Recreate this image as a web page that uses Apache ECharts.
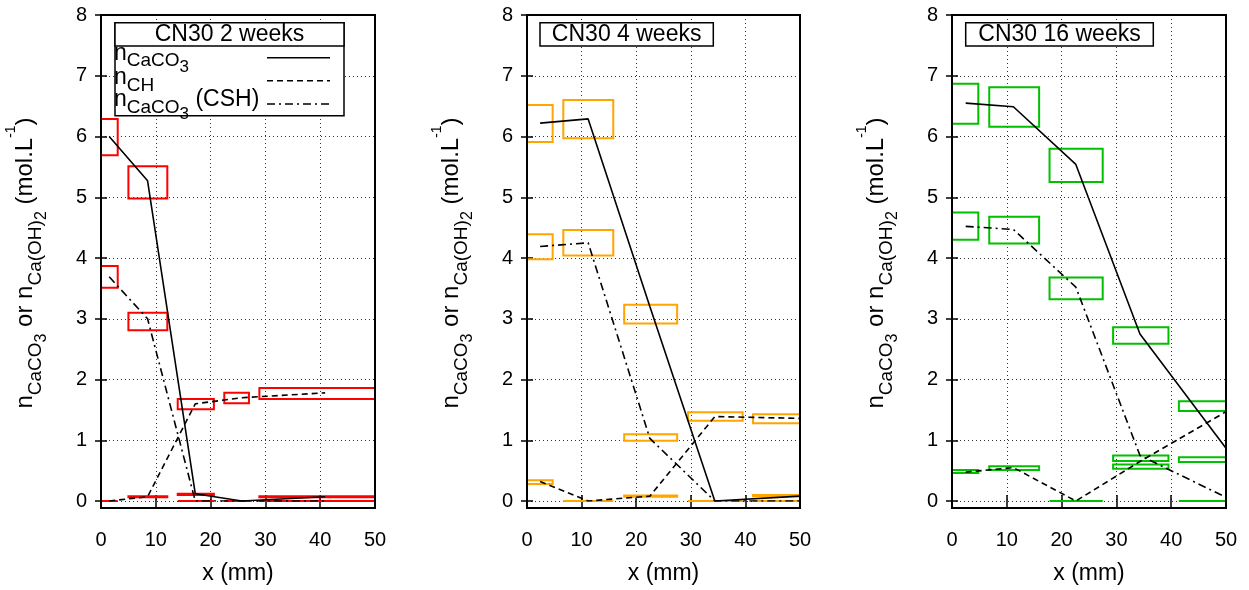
<!DOCTYPE html>
<html><head><meta charset="utf-8">
<script src="https://cdn.jsdelivr.net/npm/echarts@6/dist/echarts.min.js"></script>
<style>html,body{margin:0;padding:0;background:#fff}#c{width:1249px;height:590px}</style>
</head><body><div id="c"></div>
<script>
// ---------- data ----------
const xTickValues = [0, 10, 20, 30, 40, 50];
const yTickValues = [0, 1, 2, 3, 4, 5, 6, 7, 8];
const panelTitles = ['CN30 2 weeks', 'CN30 4 weeks', 'CN30 16 weeks'];
const boxColors = ['#ff0000', '#ffa500', '#00c000'];

// 2 weeks
const w2X = [1.5, 8.5, 17.2, 25.7, 40.9];
const w2CaCO3 = [6.0, 5.27, 0.12, 0.0, 0.07];
const w2CH = [0.0, 0.07, 1.6, 1.7, 1.78];
const w2CSH = [3.69, 3.0, 0.0, 0.0, 0.0];
// boxes: [xMin, xMax, yMin, yMax]
const w2Boxes = [
  [0, 3.05, 5.69, 6.29], [0, 3.05, 3.51, 3.87], [0, 3.05, 0, 0],
  [5.0, 12.1, 4.98, 5.51], [5.0, 12.1, 2.81, 3.10], [5.0, 12.1, 0.06, 0.08],
  [14.0, 20.6, 1.51, 1.68], [14.0, 20.6, 0.10, 0.12], [14.0, 20.6, 0, 0],
  [22.5, 27.0, 1.61, 1.78], [22.5, 27.0, 0, 0], [22.5, 27.0, 0, 0],
  [28.9, 50, 1.68, 1.86], [28.9, 50, 0.06, 0.08], [28.9, 50, 0, 0]
];

// 4 weeks
const w4X = [2.4, 11.2, 22.5, 34.4, 50];
const w4CaCO3 = [6.22, 6.29, 3.2, 0.0, 0.08];
const w4CH = [0.32, 0.0, 0.08, 1.39, 1.36];
const w4CSH = [4.19, 4.25, 1.03, 0.0, 0.0];
const w4Boxes = [
  [0, 4.7, 5.91, 6.52], [0, 4.7, 3.98, 4.39], [0, 4.7, 0.28, 0.34],
  [6.65, 15.8, 5.97, 6.60], [6.65, 15.8, 4.04, 4.46], [6.65, 15.8, 0, 0],
  [17.8, 27.5, 2.92, 3.23], [17.8, 27.5, 0.99, 1.10], [17.8, 27.5, 0.07, 0.09],
  [29.5, 39.5, 1.32, 1.46], [29.5, 39.5, 0, 0], [29.5, 39.5, 0, 0],
  [41.4, 50, 1.28, 1.43], [41.4, 50, 0.08, 0.10], [41.4, 50, 0, 0]
];

// 16 weeks
const w16X = [2.5, 11.2, 22.6, 34.3, 50];
const w16CaCO3 = [6.55, 6.49, 5.54, 2.75, 0.87];
const w16CH = [0.475, 0.55, 0.0, 0.65, 1.47];
const w16CSH = [4.52, 4.47, 3.52, 0.75, 0.06];
const w16Boxes = [
  [0, 4.8, 6.21, 6.87], [0, 4.8, 4.30, 4.75], [0, 4.8, 0.46, 0.51],
  [6.8, 15.9, 6.16, 6.81], [6.8, 15.9, 4.24, 4.68], [6.8, 15.9, 0.51, 0.57],
  [17.8, 27.5, 5.25, 5.80], [17.8, 27.5, 3.32, 3.68], [17.8, 27.5, 0, 0],
  [29.4, 39.5, 2.59, 2.86], [29.4, 39.5, 0.66, 0.75], [29.4, 39.5, 0.53, 0.60],
  [41.4, 50, 1.48, 1.64], [41.4, 50, 0.64, 0.72], [41.4, 50, 0, 0]
];

// ---------- layout / style ----------
const FONT = '"Liberation Sans", Arial, Helvetica, sans-serif';
const panels = [
  { x: w2X, caco3: w2CaCO3, ch: w2CH, csh: w2CSH, boxes: w2Boxes },
  { x: w4X, caco3: w4CaCO3, ch: w4CH, csh: w4CSH, boxes: w4Boxes },
  { x: w16X, caco3: w16CaCO3, ch: w16CH, csh: w16CSH, boxes: w16Boxes }
];
const lefts = [101, 527, 952];
const widths = [274, 273, 274];
const TOP = 15, PLOT_H = 488, EXTRA = 5;
const titleBoxes = [[115, 22.7, 229, 23.3], [540, 22.7, 173.3, 23.3], [965.7, 22.7, 187.6, 23.3]];
const DASH = [6, 4];
const DASHDOT = [8, 4, 2, 4];

const zip = (a, b) => a.map((v, i) => [v, b[i]]);
const tickStyle = { color: '#000', width: 1.5 };
const gridLineStyle = { color: '#333', type: [1, 3], width: 1 };

const grids = [], xAxes = [], yAxes = [], series = [], graphics = [];

const yRich = {
  b: { fontSize: 24, fontFamily: FONT, fill: '#000', verticalAlign: 'top', padding: [20, 0, 0, 0], lineHeight: 60 },
  s: { fontSize: 19, fontFamily: FONT, fill: '#000', verticalAlign: 'top', padding: [32.2, 0, 0, 0], lineHeight: 60 },
  ss: { fontSize: 16, fontFamily: FONT, fill: '#000', verticalAlign: 'top', padding: [39.8, 0, 0, 0], lineHeight: 60 },
  sup: { fontSize: 14, fontFamily: FONT, fill: '#000', verticalAlign: 'top', padding: [10.5, 0, 0, 0], lineHeight: 60 }
};

panels.forEach((p, i) => {
  const L = lefts[i], W = widths[i];
  grids.push({ left: L, top: TOP, width: W, height: PLOT_H });
  xAxes.push({
    gridIndex: i, type: 'value', position: 'bottom', offset: EXTRA,
    min: xTickValues[0], max: xTickValues[xTickValues.length - 1], interval: 10,
    axisLine: { show: false },
    axisTick: { show: true, inside: false, length: 8, lineStyle: tickStyle },
    axisLabel: { show: true, fontSize: 20, color: '#000', margin: 24, fontFamily: FONT },
    splitLine: { show: true, lineStyle: gridLineStyle },
    name: 'x (mm)', nameLocation: 'middle', nameGap: 56,
    nameTextStyle: { fontSize: 23, color: '#000', fontFamily: FONT }
  });
  xAxes.push({
    gridIndex: i, type: 'value', position: 'top',
    min: xTickValues[0], max: xTickValues[xTickValues.length - 1], interval: 10,
    axisLine: { show: false },
    axisTick: { show: true, inside: false, length: 6, lineStyle: tickStyle },
    axisLabel: { show: false }, splitLine: { show: false }
  });
  yAxes.push({
    gridIndex: i, type: 'value', position: 'left',
    min: yTickValues[0], max: yTickValues[yTickValues.length - 1], interval: 1,
    axisLine: { show: false },
    axisTick: { show: true, inside: false, length: 6, lineStyle: tickStyle },
    axisLabel: { show: true, fontSize: 20, color: '#000', margin: 14, fontFamily: FONT },
    splitLine: { show: true, lineStyle: gridLineStyle }
  });
  yAxes.push({
    gridIndex: i, type: 'value', position: 'right',
    min: yTickValues[0], max: yTickValues[yTickValues.length - 1], interval: 1,
    axisLine: { show: false },
    axisTick: { show: true, inside: false, length: 6, lineStyle: tickStyle },
    axisLabel: { show: false }, splitLine: { show: false }
  });

  const color = boxColors[i];
  series.push({
    type: 'custom', xAxisIndex: 2 * i, yAxisIndex: 2 * i, z: 2,
    data: p.boxes,
    encode: { x: [0, 1], y: [2, 3] },
    renderItem: (params, api) => {
      const a = api.coord([api.value(0), api.value(3)]);
      const b = api.coord([api.value(1), api.value(2)]);
      return {
        type: 'rect',
        shape: { x: a[0], y: a[1], width: b[0] - a[0], height: b[1] - a[1] },
        style: { fill: 'none', stroke: color, lineWidth: 2 }
      };
    }
  });
  const lineDefs = [[p.caco3, 'solid'], [p.ch, DASH], [p.csh, DASHDOT]];
  lineDefs.forEach(([vals, type]) => {
    series.push({
      type: 'line', xAxisIndex: 2 * i, yAxisIndex: 2 * i, z: 3,
      data: zip(p.x, vals), symbol: 'none', showSymbol: false, animation: false,
      lineStyle: { color: '#000', width: 1.6, type: type }
    });
  });

  // frame
  graphics.push({
    type: 'rect', z: 100, silent: true,
    shape: { x: L, y: TOP, width: W, height: PLOT_H + EXTRA },
    style: { fill: 'none', stroke: '#000', lineWidth: 2 }
  });
  // title box
  const tb = titleBoxes[i];
  graphics.push({
    type: 'rect', z: 100, silent: true,
    shape: { x: tb[0], y: tb[1], width: tb[2], height: tb[3] },
    style: { fill: '#fff', stroke: '#000', lineWidth: 1.5 }
  });
  graphics.push({
    type: 'text', z: 101, silent: true, x: tb[0] + tb[2] / 2, y: tb[1] + tb[3] / 2 + 0.8,
    style: { text: panelTitles[i], fontSize: 23, fontFamily: FONT, fill: '#000',
      align: 'center', verticalAlign: 'middle', textAlign: 'center', textVerticalAlign: 'middle' }
  });
  // y-axis label
  graphics.push({
    type: 'text', z: 101, silent: true, x: L - 77.3, y: 263, rotation: Math.PI / 2,
    style: {
      text: '{b|n}{s|CaCO}{ss|3}{b| or n}{s|Ca(OH)}{ss|2}{b| (mol.L}{sup|-1}{b|)}',
      rich: yRich, fontSize: 24, fontFamily: FONT, fill: '#000',
      align: 'center', verticalAlign: 'middle', textAlign: 'center', textVerticalAlign: 'middle'
    }
  });
});

// legend in first panel
const legRich = {
  b: { fontSize: 23, fontFamily: FONT, fill: '#000', verticalAlign: 'top', padding: [0, 0, 0, 0], lineHeight: 38 },
  s: { fontSize: 19, fontFamily: FONT, fill: '#000', verticalAlign: 'top', padding: [9.4, 0, 0, 0], lineHeight: 38 },
  ss: { fontSize: 17, fontFamily: FONT, fill: '#000', verticalAlign: 'top', padding: [17.1, 0, 0, 0], lineHeight: 38 }
};
graphics.push({
  type: 'rect', z: 99, silent: true,
  shape: { x: 115, y: 22.7, width: 229, height: 93 },
  style: { fill: '#fff', stroke: '#000', lineWidth: 1.5 }
});
const legendTexts = ['{b|n}{s|CaCO}{ss|3}', '{b|n}{s|CH}', '{b|n}{s|CaCO}{ss|3}{b| (CSH)}'];
const legendTops = [42, 66.5, 88.5];
const legendLineY = [57.7, 80.7, 104];
const legendDash = [null, DASH, DASHDOT];
legendTexts.forEach((t, k) => {
  graphics.push({
    type: 'text', z: 102, silent: true, x: 114, y: legendTops[k],
    style: { text: t, rich: legRich, fontSize: 23, fontFamily: FONT, fill: '#000',
      align: 'left', verticalAlign: 'top', textAlign: 'left', textVerticalAlign: 'top' }
  });
  graphics.push({
    type: 'line', z: 102, silent: true,
    shape: { x1: 267, y1: legendLineY[k], x2: 330, y2: legendLineY[k] },
    style: { stroke: '#000', lineWidth: 1.5, lineDash: legendDash[k] }
  });
});

const chart = echarts.init(document.getElementById('c'), null, { renderer: 'canvas' });
chart.setOption({
  animation: false,
  backgroundColor: '#fff',
  textStyle: { fontFamily: FONT },
  grid: grids, xAxis: xAxes, yAxis: yAxes, series: series, graphic: graphics
});
</script></body></html>
